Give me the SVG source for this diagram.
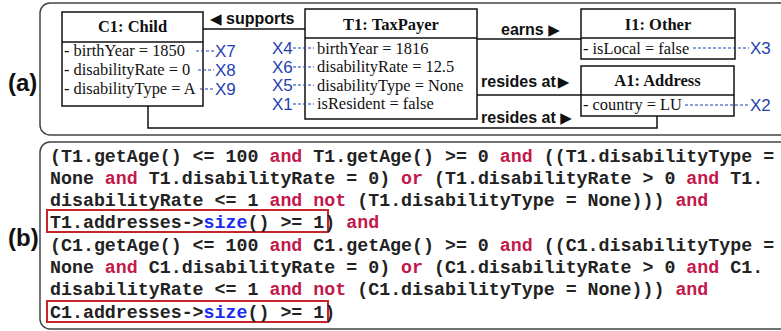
<svg xmlns="http://www.w3.org/2000/svg" width="781" height="331" viewBox="0 0 781 331">
<style>
.frame{fill:none;stroke:#444;stroke-width:1.5}
.cls{fill:#fff;stroke:#111;stroke-width:1.5}
.sep{stroke:#111;stroke-width:1.5}
.title{font-family:"Liberation Serif",serif;font-weight:bold;font-size:16.5px;fill:#111;text-anchor:middle}
.attr{font-family:"Liberation Serif",serif;font-size:16.4px;fill:#111}
.xl{font-family:"Liberation Sans",Arial,sans-serif;font-size:17px;fill:#1f3fb0}
.dash{stroke:#1f3fb0;stroke-width:1.2;stroke-dasharray:3 2;fill:none}
.conn{stroke:#111;stroke-width:1.5;fill:none}
.lbl{font-family:"Liberation Sans",Arial,sans-serif;font-weight:bold;font-size:16px;fill:#111}
.tri{font-family:"DejaVu Sans",sans-serif;font-size:15px}
.part{font-family:"Liberation Sans",Arial,sans-serif;font-weight:bold;font-size:24px;fill:#111}
.code{font-family:"Liberation Mono","Courier New",monospace;font-weight:bold;font-size:18.3px;fill:#222}
.k{fill:#c4174a}
.s{fill:#1a2cf0}
.hl{fill:none;stroke:#c4262c;stroke-width:2}
</style>

<text class="part" x="8" y="91">(a)</text>
<text class="part" x="8" y="246">(b)</text>

<rect class="frame" x="40" y="3" width="760" height="132" rx="10"/>
<rect class="frame" x="40" y="142" width="760" height="187" rx="10"/>

<g id="connectors">
  <line class="conn" x1="203" y1="29" x2="305" y2="29"/>
  <line class="conn" x1="477" y1="39" x2="581" y2="39"/>
  <line class="conn" x1="477" y1="95" x2="581" y2="95"/>
  <polyline class="conn" points="148,106 148,128 657,128 657,116"/>
  <text class="lbl" x="210" y="24"><tspan class="tri">◀</tspan> supports</text>
  <text class="lbl" x="501" y="35">earns <tspan class="tri">▶</tspan></text>
  <text class="lbl" x="481" y="87">resides at<tspan class="tri" dx="2">▶</tspan></text>
  <text class="lbl" x="481" y="123">resides at <tspan class="tri">▶</tspan></text>
</g>

<g id="C1">
  <rect class="cls" x="62" y="12" width="141" height="94"/>
  <line class="sep" x1="62" y1="42" x2="203" y2="42"/>
  <text class="title" x="132.5" y="31.5">C1: Child</text>
  <text class="attr" x="64" y="56">- birthYear = 1850</text>
  <text class="attr" x="64" y="75">- disabilityRate = 0</text>
  <text class="attr" x="64" y="94">- disabilityType = A</text>
</g>

<g id="T1">
  <rect class="cls" x="305" y="9" width="172" height="110"/>
  <line class="sep" x1="305" y1="38" x2="477" y2="38"/>
  <text class="title" x="391" y="29.5">T1: TaxPayer</text>
  <text class="attr" x="317" y="53.5">birthYear = 1816</text>
  <text class="attr" x="317" y="72">disabilityRate = 12.5</text>
  <text class="attr" x="317" y="90.5">disabilityType = None</text>
  <text class="attr" x="317" y="109">isResident = false</text>
</g>

<g id="I1">
  <rect class="cls" x="581" y="9" width="154" height="50"/>
  <line class="sep" x1="581" y1="38" x2="735" y2="38"/>
  <text class="title" x="658" y="29.5">I1: Other</text>
  <text class="attr" x="583" y="53.5">- isLocal = false</text>
</g>

<g id="A1">
  <rect class="cls" x="581" y="66" width="153" height="50"/>
  <line class="sep" x1="581" y1="95" x2="734" y2="95"/>
  <text class="title" x="657.5" y="86">A1: Address</text>
  <text class="attr" x="583" y="110">- country = LU</text>
</g>

<g id="xlabels">
  <line class="dash" x1="196" y1="51" x2="214" y2="51"/>
  <line class="dash" x1="198" y1="70" x2="214" y2="70"/>
  <line class="dash" x1="200" y1="89" x2="214" y2="89"/>
  <text class="xl" x="215" y="57">X7</text>
  <text class="xl" x="215" y="76">X8</text>
  <text class="xl" x="215" y="95">X9</text>
  <line class="dash" x1="293" y1="48" x2="314" y2="48"/>
  <line class="dash" x1="293" y1="67" x2="314" y2="67"/>
  <line class="dash" x1="293" y1="85" x2="314" y2="85"/>
  <line class="dash" x1="293" y1="104" x2="314" y2="104"/>
  <text class="xl" x="272" y="54">X4</text>
  <text class="xl" x="272" y="73">X6</text>
  <text class="xl" x="272" y="91">X5</text>
  <text class="xl" x="272" y="110">X1</text>
  <line class="dash" x1="693" y1="48" x2="749" y2="48"/>
  <text class="xl" x="750" y="54">X3</text>
  <line class="dash" x1="685" y1="105" x2="749" y2="105"/>
  <text class="xl" x="750" y="111">X2</text>
</g>

<g id="constraint">
  <rect class="hl" x="47" y="210" width="281" height="22"/>
  <rect class="hl" x="47" y="301" width="281" height="21"/>
  <text class="code" x="50" y="161.5">(T1.getAge() &lt;= 100 <tspan class="k">and</tspan> T1.getAge() &gt;= 0 <tspan class="k">and</tspan> ((T1.disabilityType =</text>
  <text class="code" x="50" y="183.5">None <tspan class="k">and</tspan> T1.disabilityRate = 0) <tspan class="k">or</tspan> (T1.disabilityRate &gt; 0 <tspan class="k">and</tspan> T1.</text>
  <text class="code" x="50" y="205.5">disabilityRate &lt;= 1 <tspan class="k">and</tspan> <tspan class="k">not</tspan> (T1.disabilityType = None))) <tspan class="k">and</tspan></text>
  <text class="code" x="50" y="227.5">T1.addresses-&gt;<tspan class="s">size</tspan>() &gt;= 1) <tspan class="k">and</tspan></text>
  <text class="code" x="50" y="251">(C1.getAge() &lt;= 100 <tspan class="k">and</tspan> C1.getAge() &gt;= 0 <tspan class="k">and</tspan> ((C1.disabilityType =</text>
  <text class="code" x="50" y="273">None <tspan class="k">and</tspan> C1.disabilityRate = 0) <tspan class="k">or</tspan> (C1.disabilityRate &gt; 0 <tspan class="k">and</tspan> C1.</text>
  <text class="code" x="50" y="295">disabilityRate &lt;= 1 <tspan class="k">and</tspan> <tspan class="k">not</tspan> (C1.disabilityType = None))) <tspan class="k">and</tspan></text>
  <text class="code" x="50" y="317.5">C1.addresses-&gt;<tspan class="s">size</tspan>() &gt;= 1)</text>
</g>
</svg>
